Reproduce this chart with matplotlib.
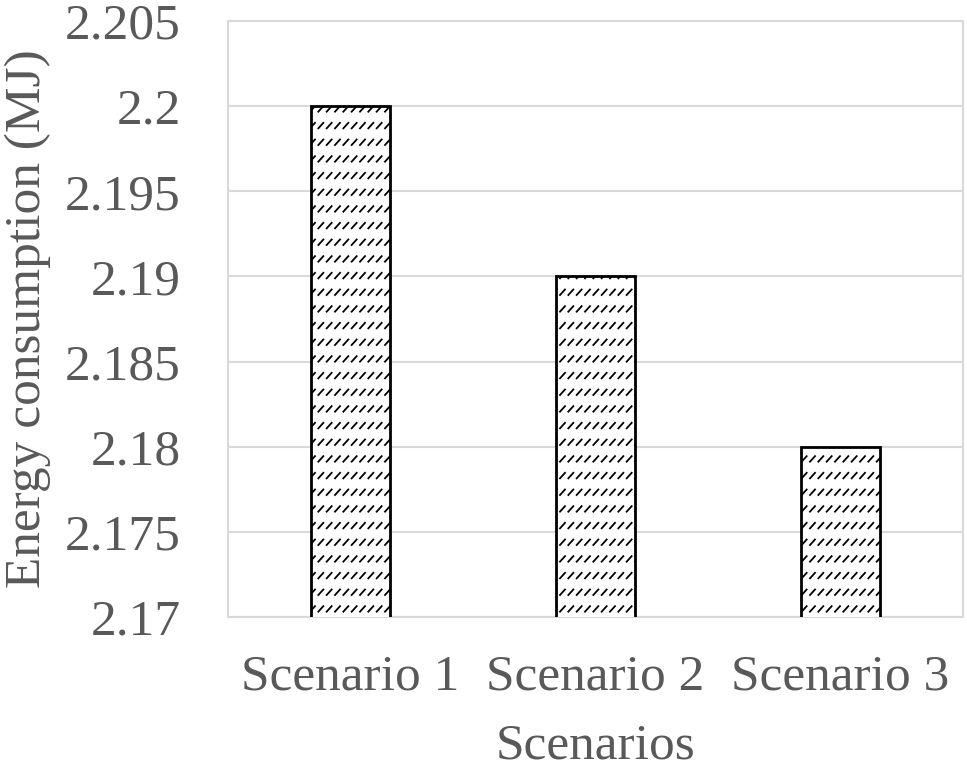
import matplotlib
matplotlib.use('Agg')
import matplotlib.pyplot as plt
import matplotlib.hatch as mhatch
from matplotlib.path import Path
from matplotlib.ticker import MultipleLocator, FormatStrFormatter
import numpy as np

scenarios = ['Scenario 1', 'Scenario 2', 'Scenario 3']
energy = [2.2, 2.19, 2.18]


# Excel-like "dashed upward diagonal" fill: rows of short "/" strokes
class DashedDiagonal(mhatch.HatchPatternBase):
    rows = 6
    cols = 12

    def __init__(self, hatch, density):
        self.on = '/' in hatch
        self.num_vertices = self.rows * self.cols * 2 if self.on else 0

    def set_vertices_and_codes(self, vertices, codes):
        if not self.on:
            return
        k = 0
        for r in range(self.rows):
            y0 = (r + 0.3) / self.rows
            for c in range(self.cols):
                x0 = (c + 0.2) / self.cols
                vertices[k] = (x0, y0)
                vertices[k + 1] = (x0 + 0.05, y0 + 0.055)
                codes[k] = Path.MOVETO
                codes[k + 1] = Path.LINETO
                k += 2


mhatch._hatch_types = [h for h in mhatch._hatch_types
                       if h is not mhatch.NorthEastHatch] + [DashedDiagonal]

plt.rcParams['font.family'] = ['Liberation Serif', 'DejaVu Serif']
plt.rcParams['hatch.linewidth'] = 1.3
text_col = '#595959'
fs = 37

fig = plt.figure(figsize=(9.67, 7.72), dpi=100)
ax = fig.add_axes([0.2358, 0.2008, 0.76, 0.772])

ax.bar(np.arange(len(scenarios)), energy, width=0.32,
       color='white', edgecolor='black', linewidth=2, hatch='/', zorder=3)

ax.set_ylim(2.17, 2.205)
ax.set_xlim(-0.5, 2.5)
ax.yaxis.set_major_locator(MultipleLocator(0.005))
ax.yaxis.set_major_formatter(FormatStrFormatter('%g'))
ax.set_xticks(np.arange(len(scenarios)))
ax.set_xticklabels(scenarios)
ax.grid(axis='y', color='#d9d9d9', linewidth=1.5, zorder=0)
for s in ax.spines.values():
    s.set_color('#d9d9d9')
    s.set_linewidth(1.5)
ax.tick_params(axis='y', length=0, labelsize=fs, colors=text_col, pad=34)
ax.tick_params(axis='x', length=0, labelsize=fs, colors=text_col, pad=27)
ax.set_ylabel('Energy consumption (MJ)', fontsize=fs, color=text_col, labelpad=10)
ax.set_xlabel('Scenarios', fontsize=fs, color=text_col, labelpad=16)

fig.savefig('out.png', dpi=100)
